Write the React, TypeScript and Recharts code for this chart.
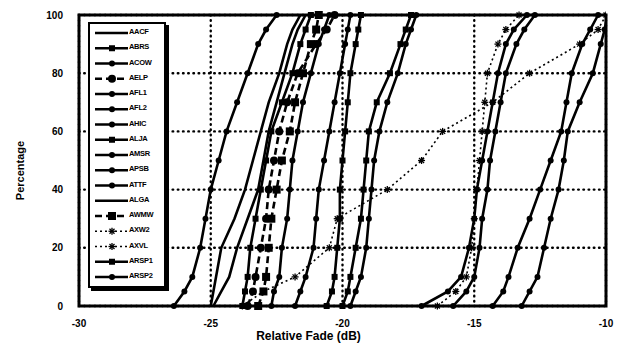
import React from 'react';
import { LineChart, Line, XAxis, YAxis, CartesianGrid, Legend, ReferenceArea } from 'recharts';

// Cumulative percentage levels (y) shared by every station curve
const PCT = [0, 5, 10, 20, 30, 40, 50, 60, 70, 80, 90, 95, 100];

// Relative fade (dB) at each percentage level, per station
const AACF = [-25.0, -24.9, -24.8, -24.6, -24.1, -23.7, -23.4, -23.1, -22.8, -22.4, -22.1, -21.9, -21.6];
const ABRS = [-23.8, -23.7, -23.6, -23.5, -23.3, -23.1, -22.9, -22.7, -22.3, -21.9, -21.6, -21.4, -21.2];
const ACOW = [-26.4, -26.0, -25.7, -25.4, -25.2, -25.0, -24.7, -24.4, -24.0, -23.6, -23.2, -22.9, -22.5];
const AELP = [-23.6, -23.4, -23.3, -23.1, -22.9, -22.8, -22.6, -22.4, -22.1, -21.7, -21.0, -20.6, -20.3];
const AFL1 = [-21.8, -21.6, -21.4, -21.1, -21.0, -20.9, -20.7, -20.5, -20.3, -20.1, -19.9, -19.8, -19.7];
const AFL2 = [-19.7, -19.5, -19.3, -19.1, -19.0, -18.9, -18.8, -18.6, -18.3, -17.9, -17.6, -17.4, -17.2];
const AHIC = [-22.7, -22.6, -22.4, -22.3, -22.1, -22.0, -21.9, -21.7, -21.5, -21.2, -20.9, -20.7, -20.5];
const ALJA = [-20.6, -20.4, -20.3, -20.2, -20.1, -20.1, -20.0, -19.9, -19.8, -19.7, -19.5, -19.4, -19.3];
const AMSR = [-17.0, -16.0, -15.5, -15.2, -15.0, -14.9, -14.7, -14.5, -14.3, -14.1, -13.8, -13.5, -13.0];
const APSB = [-15.8, -15.3, -15.0, -14.8, -14.7, -14.5, -14.4, -14.2, -14.0, -13.8, -13.4, -13.1, -12.7];
const ATTF = [-14.3, -13.9, -13.7, -13.35, -12.9, -12.5, -12.1, -11.7, -11.5, -11.3, -10.9, -10.6, -10.3];
const ALGA = [-24.9, -24.6, -24.3, -24.0, -23.6, -23.2, -23.0, -22.8, -22.5, -22.2, -21.9, -21.7, -21.4];
const AWMW = [-23.2, -23.0, -22.9, -22.8, -22.7, -22.5, -22.3, -22.0, -21.8, -21.5, -21.2, -21.0, -20.9];
const AXW2 = [-16.4, -15.7, -15.3, -15.1, -15.0, -14.9, -14.8, -14.7, -14.6, -14.5, -14.1, -13.8, -13.3];
const AXVL = [-23.8, -23.0, -21.8, -20.5, -20.2, -18.3, -17.0, -16.2, -14.3, -12.9, -11.0, -10.3, -10.0];
const ARSP1 = [-20.0, -19.8, -19.7, -19.5, -19.3, -19.2, -19.1, -19.0, -18.7, -18.2, -17.8, -17.6, -17.4];
const ARSP2 = [-13.2, -12.9, -12.6, -12.35, -12.1, -11.8, -11.6, -11.45, -11.0, -10.5, -10.2, -10.05, -9.95];

const X_TICKS = [-30, -25, -20, -15, -10];
const Y_TICKS = [0, 20, 40, 60, 80, 100];

type Marker = 'none' | 'square' | 'circle' | 'bigcircle' | 'bigsquare' | 'star';
interface S { name: string; values: number[]; marker: Marker; dash?: string; width?: number }

const SERIES: S[] = [
  { name: 'AACF', values: AACF, marker: 'none' },
  { name: 'ABRS', values: ABRS, marker: 'square' },
  { name: 'ACOW', values: ACOW, marker: 'circle' },
  { name: 'AELP', values: AELP, marker: 'bigcircle', dash: '7 4' },
  { name: 'AFL1', values: AFL1, marker: 'circle' },
  { name: 'AFL2', values: AFL2, marker: 'circle' },
  { name: 'AHIC', values: AHIC, marker: 'circle' },
  { name: 'ALJA', values: ALJA, marker: 'square' },
  { name: 'AMSR', values: AMSR, marker: 'circle' },
  { name: 'APSB', values: APSB, marker: 'circle' },
  { name: 'ATTF', values: ATTF, marker: 'circle' },
  { name: 'ALGA', values: ALGA, marker: 'none' },
  { name: 'AWMW', values: AWMW, marker: 'bigsquare', dash: '7 4' },
  { name: 'AXW2', values: AXW2, marker: 'star', dash: '2 3', width: 1.6 },
  { name: 'AXVL', values: AXVL, marker: 'star', dash: '2 3', width: 1.6 },
  { name: 'ARSP1', values: ARSP1, marker: 'square' },
  { name: 'ARSP2', values: ARSP2, marker: 'circle' },
];

const seriesData = (s: S) => s.values.map((x, i) => ({ x, p: PCT[i] }));
const FONT = 'Liberation Sans, Arial, sans-serif';

function drawMarker(m: Marker, cx: number, cy: number, key?: string | number) {
  if (cx == null || cy == null || isNaN(cx) || isNaN(cy)) return <g key={key} />;
  switch (m) {
    case 'square':
      return <rect key={key} x={cx - 3} y={cy - 3} width={6} height={6} fill="#000" />;
    case 'bigsquare':
      return <rect key={key} x={cx - 4} y={cy - 4} width={8} height={8} fill="#000" />;
    case 'circle':
      return <circle key={key} cx={cx} cy={cy} r={3} fill="#000" />;
    case 'bigcircle':
      return <circle key={key} cx={cx} cy={cy} r={4} fill="#000" />;
    case 'star': {
      const l = 3.5;
      return (
        <g key={key} stroke="#000" strokeWidth={1.3}>
          <line x1={cx - l} y1={cy} x2={cx + l} y2={cy} />
          <line x1={cx} y1={cy - l} x2={cx} y2={cy + l} />
          <line x1={cx - 2.5} y1={cy - 2.5} x2={cx + 2.5} y2={cy + 2.5} />
          <line x1={cx - 2.5} y1={cy + 2.5} x2={cx + 2.5} y2={cy - 2.5} />
        </g>
      );
    }
    default:
      return <g key={key} />;
  }
}

const LegendBox = () => {
  const rowH = 15.25;
  return (
    <div style={{ width: 78, height: 266, background: '#fff', border: '2px solid #000', boxShadow: '3px 3px 0 #000', boxSizing: 'border-box' }}>
      <svg width={74} height={262} style={{ display: 'block' }}>
        {SERIES.map((s, i) => {
          const y = 9 + i * rowH;
          return (
            <g key={s.name}>
              <line x1={5} x2={38} y1={y} y2={y} stroke="#000" strokeWidth={s.width ?? 2.6} strokeDasharray={s.dash} />
              {drawMarker(s.marker, 22, y)}
              <text x={39} y={y + 1} fontSize={7.5} fontWeight="bold" fontFamily={FONT} fill="#000" letterSpacing={-0.3}>
                {s.name}
              </text>
            </g>
          );
        })}
      </svg>
    </div>
  );
};

const tickStyle = { fontSize: 10, fontWeight: 'bold' as const, fill: '#000', fontFamily: FONT };

export default function App() {
  return (
    <div style={{ position: 'absolute', left: 0, top: 0, background: '#fff' }}>
      <LineChart width={619} height={347} margin={{ top: 15, right: 13, bottom: 0, left: 49 }}>
        <CartesianGrid stroke="#000" strokeWidth={2.4} strokeDasharray="0.6 4.6" strokeLinecap="round" horizontal vertical />
        <XAxis
          type="number"
          dataKey="x"
          domain={[-30, -10]}
          ticks={X_TICKS}
          allowDataOverflow
          axisLine={false}
          tickLine={false}
          tickSize={0}
          tickMargin={14}
          height={41}
          tick={tickStyle}
          label={{
            content: (p: any) => {
              const vb = p.viewBox || {};
              return (
                <text x={vb.x + vb.width / 2 - 34} y={vb.y + 34} textAnchor="middle" fontSize={12} fontWeight="bold" fontFamily={FONT} fill="#000">
                  Relative Fade (dB)
                </text>
              );
            },
          }}
        />
        <YAxis
          type="number"
          dataKey="p"
          domain={[0, 100]}
          ticks={Y_TICKS}
          axisLine={false}
          tickLine={false}
          tickSize={0}
          tickMargin={16}
          width={30}
          tick={tickStyle}
          label={{
            content: (p: any) => {
              const vb = p.viewBox || {};
              const x = vb.x - 29;
              const y = vb.y + vb.height / 2 + 10;
              return (
                <text x={x} y={y} transform={`rotate(-90, ${x}, ${y})`} textAnchor="middle" dominantBaseline="central" fontSize={11} fontWeight="bold" fontFamily={FONT} fill="#000">
                  Percentage
                </text>
              );
            },
          }}
        />
        {SERIES.map((s) => (
          <Line
            key={s.name}
            name={s.name}
            data={seriesData(s)}
            dataKey="p"
            type="linear"
            stroke="#000"
            strokeWidth={s.width ?? 2.6}
            strokeDasharray={s.dash}
            isAnimationActive={false}
            dot={s.marker === 'none' ? false : (d: any) => drawMarker(s.marker, d.cx, d.cy, d.key ?? `${s.name}-${d.index}`)}
            activeDot={false}
            legendType="line"
          />
        ))}
        <ReferenceArea x1={-30} x2={-10} y1={0} y2={100} fill="none" stroke="#000" strokeWidth={3} ifOverflow="visible" />
        <Legend
          layout="vertical"
          align="center"
          verticalAlign="middle"
          content={LegendBox}
          wrapperStyle={{ left: 88, top: 22, width: 82, height: 268 }}
        />
      </LineChart>
    </div>
  );
}
